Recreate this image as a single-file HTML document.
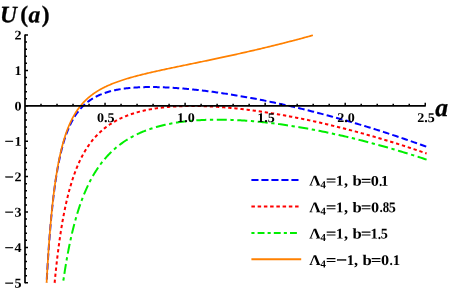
<!DOCTYPE html>
<html><head><meta charset="utf-8"><title>U(a)</title>
<style>html,body{margin:0;padding:0;background:#fff}svg{display:block;will-change:transform;opacity:.999}</style></head>
<body>
<svg xmlns="http://www.w3.org/2000/svg" width="449" height="292" viewBox="0 0 449 292">
<rect width="449" height="292" fill="#fff"/>
<path d="M46.62,282.80 L46.62,282.79 L46.63,282.74 L46.63,282.65 L46.64,282.52 L46.65,282.34 L46.66,282.11 L46.67,281.83 L46.69,281.50 L46.71,281.11 L46.74,280.68 L46.76,280.19 L46.79,279.64 L46.83,279.04 L46.86,278.39 L46.90,277.68 L46.94,276.91 L46.99,276.09 L47.04,275.22 L47.09,274.29 L47.15,273.31 L47.21,272.28 L47.27,271.19 L47.34,270.05 L47.41,268.87 L47.48,267.63 L47.56,266.35 L47.64,265.02 L47.72,263.64 L47.81,262.22 L47.90,260.76 L48.00,259.25 L48.10,257.71 L48.20,256.13 L48.31,254.51 L48.42,252.85 L48.53,251.17 L48.65,249.45 L48.78,247.70 L48.90,245.92 L49.03,244.12 L49.17,242.29 L49.31,240.43 L49.45,238.56 L49.60,236.67 L49.75,234.76 L49.90,232.83 L50.06,230.89 L50.22,228.93 L50.39,226.97 L50.56,224.99 L50.74,223.01 L50.92,221.02 L51.10,219.03 L51.29,217.03 L51.48,215.03 L51.68,213.03 L51.88,211.03 L52.08,209.04 L52.29,207.05 L52.51,205.06 L52.72,203.08 L52.95,201.11 L53.17,199.14 L53.40,197.19 L53.64,195.25 L53.88,193.31 L54.12,191.40 L54.37,189.49 L54.62,187.60 L54.88,185.72 L55.14,183.86 L55.41,182.02 L55.68,180.19 L55.95,178.39 L56.23,176.60 L56.52,174.83 L56.81,173.07 L57.10,171.34 L57.40,169.63 L57.70,167.94 L58.01,166.27 L58.32,164.63 L58.63,163.00 L58.95,161.40 L59.28,159.81 L59.61,158.25 L59.94,156.72 L60.28,155.20 L60.63,153.71 L60.98,152.24 L61.33,150.79 L61.69,149.37 L62.05,147.97 L62.42,146.59 L62.79,145.23 L63.17,143.90 L63.55,142.59 L63.93,141.30 L64.32,140.03 L64.72,138.79 L65.12,137.56 L65.53,136.36 L65.94,135.18 L66.35,134.03 L66.77,132.89 L67.20,131.77 L67.63,130.68 L68.06,129.60 L68.50,128.55 L68.94,127.52 L69.39,126.50 L69.85,125.51 L70.30,124.53 L70.77,123.58 L71.24,122.64 L71.71,121.72 L72.19,120.82 L72.67,119.94 L73.16,119.07 L73.65,118.23 L74.15,117.40 L74.65,116.59 L75.16,115.79 L75.67,115.01 L76.19,114.25 L76.71,113.50 L77.24,112.77 L77.78,112.06 L78.31,111.36 L78.86,110.67 L79.40,110.00 L79.96,109.35 L80.52,108.70 L81.08,108.08 L81.65,107.46 L82.22,106.86 L82.80,106.27 L83.38,105.70 L83.97,105.14 L84.56,104.59 L85.16,104.05 L85.77,103.53 L86.38,103.02 L86.99,102.51 L87.61,102.02 L88.23,101.55 L88.86,101.08 L89.50,100.62 L90.14,100.18 L90.78,99.74 L91.43,99.32 L92.09,98.90 L92.75,98.50 L93.42,98.10 L94.09,97.71 L94.76,97.34 L95.44,96.97 L96.13,96.61 L96.82,96.26 L97.52,95.92 L98.22,95.59 L98.93,95.27 L99.64,94.95 L100.36,94.64 L101.08,94.34 L101.81,94.05 L102.55,93.77 L103.29,93.49 L104.03,93.22 L104.78,92.96 L105.54,92.70 L106.30,92.46 L107.06,92.22 L107.83,91.98 L108.61,91.75 L109.39,91.53 L110.18,91.32 L110.97,91.11 L111.77,90.91 L112.57,90.71 L113.38,90.52 L114.20,90.34 L115.02,90.16 L115.84,89.99 L116.67,89.82 L117.51,89.66 L118.35,89.51 L119.20,89.36 L120.05,89.22 L120.91,89.08 L121.77,88.94 L122.64,88.81 L123.51,88.69 L124.39,88.57 L125.27,88.46 L126.16,88.35 L127.06,88.25 L127.96,88.15 L128.87,88.05 L129.78,87.96 L130.70,87.88 L131.62,87.80 L132.55,87.72 L133.48,87.65 L134.42,87.58 L135.37,87.52 L136.32,87.46 L137.27,87.40 L138.23,87.35 L139.20,87.31 L140.17,87.26 L141.15,87.23 L142.14,87.19 L143.13,87.16 L144.12,87.14 L145.12,87.11 L146.13,87.10 L147.14,87.08 L148.16,87.07 L149.18,87.06 L150.21,87.06 L151.24,87.06 L152.28,87.06 L153.33,87.07 L154.38,87.08 L155.43,87.10 L156.49,87.12 L157.56,87.14 L158.64,87.17 L159.71,87.20 L160.80,87.23 L161.89,87.27 L162.99,87.31 L164.09,87.35 L165.19,87.40 L166.31,87.45 L167.43,87.50 L168.55,87.56 L169.68,87.62 L170.81,87.68 L171.96,87.75 L173.10,87.82 L174.26,87.90 L175.41,87.98 L176.58,88.06 L177.75,88.14 L178.92,88.23 L180.10,88.32 L181.29,88.41 L182.48,88.51 L183.68,88.61 L184.89,88.72 L186.10,88.83 L187.31,88.94 L188.53,89.05 L189.76,89.17 L190.99,89.29 L192.23,89.42 L193.48,89.54 L194.73,89.68 L195.98,89.81 L197.25,89.95 L198.51,90.09 L199.79,90.23 L201.07,90.38 L202.35,90.53 L203.64,90.69 L204.94,90.85 L206.24,91.01 L207.55,91.17 L208.86,91.34 L210.18,91.51 L211.51,91.69 L212.84,91.86 L214.18,92.05 L215.52,92.23 L216.87,92.42 L218.23,92.61 L219.59,92.81 L220.95,93.01 L222.33,93.21 L223.71,93.41 L225.09,93.62 L226.48,93.84 L227.88,94.05 L229.28,94.27 L230.69,94.50 L232.10,94.72 L233.52,94.95 L234.95,95.19 L236.38,95.42 L237.82,95.67 L239.26,95.91 L240.71,96.16 L242.16,96.41 L243.63,96.67 L245.09,96.93 L246.57,97.19 L248.04,97.46 L249.53,97.73 L251.02,98.00 L252.52,98.28 L254.02,98.56 L255.53,98.85 L257.04,99.14 L258.56,99.43 L260.09,99.73 L261.62,100.03 L263.16,100.34 L264.71,100.64 L266.26,100.96 L267.81,101.27 L269.38,101.60 L270.95,101.92 L272.52,102.25 L274.10,102.58 L275.69,102.92 L277.28,103.26 L278.88,103.61 L280.48,103.96 L282.10,104.31 L283.71,104.67 L285.34,105.03 L286.96,105.39 L288.60,105.76 L290.24,106.14 L291.89,106.52 L293.54,106.90 L295.20,107.29 L296.86,107.68 L298.54,108.08 L300.21,108.48 L301.90,108.88 L303.59,109.29 L305.28,109.71 L306.98,110.12 L308.69,110.55 L310.41,110.97 L312.13,111.41 L313.85,111.84 L315.58,112.28 L317.32,112.73 L319.07,113.18 L320.82,113.64 L322.57,114.10 L324.34,114.56 L326.11,115.03 L327.88,115.51 L329.66,115.99 L331.45,116.47 L333.24,116.96 L335.04,117.45 L336.85,117.95 L338.66,118.46 L340.48,118.96 L342.30,119.48 L344.13,120.00 L345.97,120.52 L347.81,121.05 L349.66,121.59 L351.51,122.13 L353.38,122.67 L355.24,123.22 L357.12,123.78 L359.00,124.34 L360.88,124.90 L362.77,125.47 L364.67,126.05 L366.58,126.63 L368.49,127.22 L370.40,127.81 L372.33,128.41 L374.26,129.02 L376.19,129.63 L378.13,130.24 L380.08,130.86 L382.04,131.49 L384.00,132.12 L385.96,132.76 L387.94,133.41 L389.92,134.06 L391.90,134.71 L393.89,135.38 L395.89,136.04 L397.89,136.72 L399.90,137.40 L401.92,138.08 L403.94,138.77 L405.97,139.47 L408.01,140.18 L410.05,140.89 L412.10,141.60 L414.15,142.32 L416.21,143.05 L418.28,143.79 L420.35,144.53 L422.43,145.28 L424.52,146.03 L426.61,146.79" stroke="#0000ff" stroke-width="2" fill="none" stroke-dasharray="6.6 3.19" stroke-dashoffset="6.5"/>
<path d="M54.63,282.80 L54.63,282.79 L54.64,282.77 L54.64,282.72 L54.65,282.64 L54.66,282.54 L54.67,282.42 L54.68,282.26 L54.70,282.08 L54.72,281.86 L54.74,281.62 L54.77,281.35 L54.80,281.04 L54.83,280.71 L54.87,280.34 L54.91,279.94 L54.95,279.51 L54.99,279.05 L55.04,278.56 L55.09,278.03 L55.15,277.48 L55.20,276.89 L55.27,276.27 L55.33,275.62 L55.40,274.94 L55.47,274.23 L55.55,273.48 L55.63,272.71 L55.71,271.91 L55.80,271.08 L55.89,270.22 L55.98,269.33 L56.08,268.42 L56.18,267.48 L56.28,266.51 L56.39,265.52 L56.50,264.50 L56.62,263.46 L56.74,262.39 L56.87,261.30 L56.99,260.19 L57.12,259.06 L57.26,257.90 L57.40,256.73 L57.54,255.53 L57.69,254.32 L57.84,253.09 L58.00,251.84 L58.16,250.58 L58.32,249.30 L58.49,248.01 L58.66,246.70 L58.84,245.38 L59.02,244.05 L59.20,242.71 L59.39,241.35 L59.58,239.99 L59.78,238.61 L59.98,237.23 L60.18,235.84 L60.39,234.45 L60.60,233.05 L60.82,231.64 L61.04,230.23 L61.27,228.81 L61.50,227.39 L61.73,225.97 L61.97,224.55 L62.22,223.13 L62.46,221.70 L62.72,220.28 L62.97,218.85 L63.23,217.43 L63.50,216.01 L63.77,214.59 L64.04,213.18 L64.32,211.77 L64.60,210.36 L64.89,208.96 L65.18,207.56 L65.48,206.17 L65.78,204.78 L66.08,203.40 L66.39,202.03 L66.71,200.66 L67.02,199.30 L67.35,197.95 L67.67,196.61 L68.01,195.27 L68.34,193.95 L68.68,192.63 L69.03,191.32 L69.38,190.02 L69.74,188.74 L70.09,187.46 L70.46,186.19 L70.83,184.93 L71.20,183.69 L71.58,182.45 L71.96,181.23 L72.35,180.02 L72.74,178.81 L73.14,177.62 L73.54,176.44 L73.95,175.28 L74.36,174.12 L74.77,172.98 L75.19,171.85 L75.62,170.72 L76.05,169.62 L76.48,168.52 L76.92,167.44 L77.37,166.37 L77.81,165.31 L78.27,164.26 L78.73,163.22 L79.19,162.20 L79.66,161.19 L80.13,160.19 L80.61,159.20 L81.09,158.23 L81.58,157.26 L82.07,156.31 L82.57,155.37 L83.07,154.45 L83.58,153.53 L84.09,152.63 L84.61,151.74 L85.13,150.86 L85.66,149.99 L86.19,149.13 L86.72,148.29 L87.26,147.45 L87.81,146.63 L88.36,145.82 L88.92,145.02 L89.48,144.23 L90.05,143.45 L90.62,142.68 L91.19,141.93 L91.77,141.18 L92.36,140.45 L92.95,139.72 L93.55,139.01 L94.15,138.31 L94.76,137.61 L95.37,136.93 L95.98,136.26 L96.60,135.59 L97.23,134.94 L97.86,134.30 L98.50,133.66 L99.14,133.04 L99.79,132.42 L100.44,131.82 L101.10,131.22 L101.76,130.64 L102.42,130.06 L103.10,129.49 L103.77,128.93 L104.46,128.38 L105.14,127.84 L105.84,127.31 L106.54,126.78 L107.24,126.27 L107.95,125.76 L108.66,125.26 L109.38,124.77 L110.10,124.28 L110.83,123.81 L111.57,123.34 L112.31,122.88 L113.05,122.43 L113.80,121.99 L114.55,121.55 L115.31,121.12 L116.08,120.70 L116.85,120.29 L117.63,119.88 L118.41,119.48 L119.19,119.09 L119.99,118.70 L120.78,118.33 L121.59,117.96 L122.39,117.59 L123.21,117.23 L124.02,116.88 L124.85,116.54 L125.68,116.20 L126.51,115.87 L127.35,115.55 L128.19,115.23 L129.04,114.92 L129.90,114.61 L130.76,114.31 L131.63,114.02 L132.50,113.73 L133.37,113.45 L134.26,113.18 L135.14,112.91 L136.04,112.64 L136.93,112.39 L137.84,112.13 L138.75,111.89 L139.66,111.65 L140.58,111.41 L141.51,111.18 L142.44,110.96 L143.37,110.74 L144.31,110.53 L145.26,110.32 L146.21,110.12 L147.17,109.92 L148.13,109.73 L149.10,109.54 L150.08,109.36 L151.05,109.19 L152.04,109.02 L153.03,108.85 L154.03,108.69 L155.03,108.53 L156.03,108.38 L157.05,108.24 L158.06,108.09 L159.09,107.96 L160.11,107.83 L161.15,107.70 L162.19,107.58 L163.23,107.46 L164.28,107.35 L165.34,107.24 L166.40,107.14 L167.47,107.04 L168.54,106.95 L169.62,106.86 L170.70,106.77 L171.79,106.69 L172.89,106.62 L173.99,106.55 L175.10,106.48 L176.21,106.42 L177.32,106.36 L178.45,106.31 L179.58,106.26 L180.71,106.21 L181.85,106.17 L182.99,106.14 L184.14,106.11 L185.30,106.08 L186.46,106.06 L187.63,106.04 L188.80,106.02 L189.98,106.01 L191.17,106.01 L192.36,106.01 L193.55,106.01 L194.75,106.02 L195.96,106.03 L197.17,106.04 L198.39,106.06 L199.62,106.09 L200.85,106.12 L202.08,106.15 L203.32,106.19 L204.57,106.23 L205.82,106.27 L207.08,106.32 L208.34,106.37 L209.61,106.43 L210.89,106.49 L212.17,106.56 L213.45,106.63 L214.75,106.70 L216.04,106.78 L217.35,106.86 L218.66,106.95 L219.97,107.04 L221.29,107.14 L222.62,107.24 L223.95,107.34 L225.29,107.45 L226.63,107.56 L227.98,107.68 L229.34,107.80 L230.70,107.92 L232.07,108.05 L233.44,108.18 L234.82,108.32 L236.20,108.46 L237.59,108.60 L238.99,108.75 L240.39,108.91 L241.80,109.06 L243.21,109.23 L244.63,109.39 L246.05,109.56 L247.48,109.74 L248.92,109.92 L250.36,110.10 L251.81,110.29 L253.26,110.48 L254.72,110.68 L256.19,110.88 L257.66,111.08 L259.14,111.29 L260.62,111.51 L262.11,111.72 L263.60,111.95 L265.10,112.17 L266.61,112.40 L268.12,112.64 L269.64,112.88 L271.16,113.12 L272.69,113.37 L274.23,113.63 L275.77,113.88 L277.32,114.15 L278.87,114.41 L280.43,114.68 L281.99,114.96 L283.57,115.24 L285.14,115.52 L286.72,115.81 L288.31,116.11 L289.91,116.41 L291.51,116.71 L293.11,117.02 L294.73,117.33 L296.35,117.65 L297.97,117.97 L299.60,118.30 L301.24,118.63 L302.88,118.96 L304.53,119.30 L306.18,119.65 L307.84,120.00 L309.51,120.36 L311.18,120.72 L312.86,121.08 L314.54,121.45 L316.23,121.83 L317.92,122.21 L319.63,122.59 L321.33,122.98 L323.05,123.38 L324.77,123.77 L326.49,124.18 L328.22,124.59 L329.96,125.00 L331.70,125.42 L333.45,125.85 L335.21,126.28 L336.97,126.72 L338.74,127.16 L340.51,127.60 L342.29,128.05 L344.08,128.51 L345.87,128.97 L347.67,129.44 L349.47,129.91 L351.28,130.39 L353.10,130.87 L354.92,131.36 L356.75,131.85 L358.58,132.35 L360.42,132.86 L362.27,133.37 L364.12,133.89 L365.98,134.41 L367.84,134.93 L369.71,135.47 L371.59,136.01 L373.47,136.55 L375.36,137.10 L377.26,137.66 L379.16,138.22 L381.06,138.78 L382.98,139.36 L384.90,139.94 L386.82,140.52 L388.75,141.11 L390.69,141.71 L392.63,142.31 L394.58,142.92 L396.54,143.53 L398.50,144.15 L400.47,144.78 L402.44,145.41 L404.42,146.05 L406.41,146.70 L408.40,147.35 L410.40,148.01 L412.40,148.67 L414.42,149.34 L416.43,150.02 L418.46,150.70 L420.49,151.39 L422.52,152.08 L424.56,152.79 L426.61,153.49" stroke="#ff0000" stroke-width="2" fill="none" stroke-dasharray="3.3 2.84" stroke-dashoffset="0.2"/>
<path d="M63.07,282.80 L63.07,282.80 L63.08,282.78 L63.08,282.74 L63.09,282.70 L63.10,282.63 L63.11,282.55 L63.12,282.44 L63.14,282.32 L63.16,282.18 L63.18,282.02 L63.21,281.84 L63.24,281.64 L63.27,281.42 L63.30,281.17 L63.34,280.91 L63.38,280.62 L63.43,280.31 L63.47,279.98 L63.52,279.63 L63.58,279.26 L63.63,278.87 L63.69,278.45 L63.76,278.02 L63.82,277.56 L63.89,277.08 L63.97,276.58 L64.05,276.06 L64.13,275.51 L64.21,274.95 L64.30,274.36 L64.39,273.76 L64.49,273.13 L64.58,272.49 L64.69,271.82 L64.79,271.14 L64.90,270.43 L65.02,269.71 L65.13,268.97 L65.26,268.21 L65.38,267.43 L65.51,266.64 L65.64,265.83 L65.78,265.00 L65.92,264.16 L66.06,263.29 L66.21,262.42 L66.36,261.53 L66.52,260.62 L66.68,259.70 L66.84,258.77 L67.01,257.82 L67.18,256.86 L67.36,255.88 L67.54,254.90 L67.72,253.90 L67.91,252.89 L68.10,251.88 L68.30,250.85 L68.50,249.81 L68.70,248.76 L68.91,247.70 L69.12,246.64 L69.34,245.56 L69.56,244.48 L69.79,243.39 L70.01,242.30 L70.25,241.20 L70.49,240.09 L70.73,238.98 L70.97,237.86 L71.22,236.74 L71.48,235.62 L71.74,234.49 L72.00,233.36 L72.27,232.22 L72.54,231.09 L72.82,229.95 L73.10,228.81 L73.38,227.66 L73.67,226.52 L73.97,225.38 L74.26,224.24 L74.57,223.09 L74.87,221.95 L75.18,220.81 L75.50,219.67 L75.82,218.53 L76.14,217.39 L76.47,216.26 L76.81,215.13 L77.14,214.00 L77.49,212.87 L77.83,211.75 L78.18,210.63 L78.54,209.51 L78.90,208.40 L79.27,207.29 L79.64,206.19 L80.01,205.09 L80.39,204.00 L80.77,202.91 L81.16,201.82 L81.55,200.75 L81.95,199.67 L82.35,198.61 L82.76,197.55 L83.17,196.49 L83.58,195.45 L84.00,194.41 L84.43,193.37 L84.86,192.34 L85.29,191.32 L85.73,190.31 L86.17,189.30 L86.62,188.30 L87.07,187.31 L87.53,186.32 L87.99,185.35 L88.46,184.38 L88.93,183.41 L89.41,182.46 L89.89,181.51 L90.38,180.57 L90.87,179.64 L91.36,178.72 L91.86,177.80 L92.37,176.89 L92.88,175.99 L93.39,175.10 L93.91,174.22 L94.44,173.35 L94.97,172.48 L95.50,171.62 L96.04,170.77 L96.58,169.93 L97.13,169.09 L97.68,168.27 L98.24,167.45 L98.80,166.64 L99.37,165.84 L99.95,165.05 L100.52,164.26 L101.11,163.48 L101.69,162.72 L102.29,161.96 L102.88,161.20 L103.49,160.46 L104.09,159.72 L104.71,159.00 L105.32,158.28 L105.94,157.57 L106.57,156.86 L107.20,156.17 L107.84,155.48 L108.48,154.80 L109.13,154.13 L109.78,153.46 L110.44,152.81 L111.10,152.16 L111.77,151.52 L112.44,150.89 L113.12,150.26 L113.80,149.64 L114.49,149.04 L115.18,148.43 L115.88,147.84 L116.58,147.25 L117.29,146.67 L118.00,146.10 L118.72,145.53 L119.44,144.98 L120.17,144.43 L120.90,143.88 L121.64,143.35 L122.38,142.82 L123.13,142.30 L123.88,141.78 L124.64,141.27 L125.40,140.77 L126.17,140.28 L126.94,139.79 L127.72,139.31 L128.51,138.84 L129.30,138.37 L130.09,137.91 L130.89,137.46 L131.70,137.01 L132.51,136.57 L133.32,136.14 L134.14,135.71 L134.97,135.29 L135.80,134.88 L136.63,134.47 L137.47,134.07 L138.32,133.67 L139.17,133.29 L140.03,132.90 L140.89,132.53 L141.76,132.16 L142.63,131.79 L143.51,131.43 L144.39,131.08 L145.28,130.74 L146.17,130.39 L147.07,130.06 L147.98,129.73 L148.88,129.41 L149.80,129.09 L150.72,128.78 L151.64,128.48 L152.58,128.18 L153.51,127.88 L154.45,127.59 L155.40,127.31 L156.35,127.03 L157.31,126.76 L158.27,126.50 L159.24,126.23 L160.21,125.98 L161.19,125.73 L162.17,125.48 L163.16,125.25 L164.16,125.01 L165.16,124.78 L166.16,124.56 L167.17,124.34 L168.19,124.13 L169.21,123.92 L170.24,123.72 L171.27,123.52 L172.31,123.33 L173.35,123.14 L174.40,122.96 L175.45,122.78 L176.51,122.61 L177.58,122.44 L178.65,122.28 L179.72,122.12 L180.80,121.97 L181.89,121.83 L182.98,121.68 L184.08,121.55 L185.18,121.41 L186.29,121.29 L187.40,121.16 L188.52,121.05 L189.65,120.93 L190.78,120.82 L191.91,120.72 L193.05,120.62 L194.20,120.53 L195.35,120.44 L196.51,120.35 L197.67,120.27 L198.84,120.20 L200.02,120.13 L201.20,120.06 L202.38,120.00 L203.57,119.95 L204.77,119.90 L205.97,119.85 L207.18,119.81 L208.39,119.77 L209.61,119.74 L210.83,119.71 L212.06,119.68 L213.30,119.66 L214.54,119.65 L215.78,119.64 L217.03,119.63 L218.29,119.63 L219.55,119.64 L220.82,119.64 L222.10,119.66 L223.38,119.68 L224.66,119.70 L225.95,119.72 L227.25,119.75 L228.55,119.79 L229.86,119.83 L231.17,119.88 L232.49,119.93 L233.82,119.98 L235.15,120.04 L236.48,120.10 L237.82,120.17 L239.17,120.24 L240.52,120.32 L241.88,120.40 L243.24,120.48 L244.61,120.57 L245.99,120.67 L247.37,120.77 L248.76,120.87 L250.15,120.98 L251.55,121.10 L252.95,121.21 L254.36,121.34 L255.78,121.46 L257.20,121.60 L258.62,121.73 L260.05,121.87 L261.49,122.02 L262.94,122.17 L264.39,122.32 L265.84,122.48 L267.30,122.65 L268.77,122.82 L270.24,122.99 L271.72,123.17 L273.20,123.35 L274.69,123.54 L276.18,123.73 L277.69,123.93 L279.19,124.13 L280.70,124.34 L282.22,124.55 L283.75,124.76 L285.28,124.98 L286.81,125.21 L288.35,125.44 L289.90,125.68 L291.45,125.92 L293.01,126.16 L294.57,126.41 L296.14,126.67 L297.72,126.92 L299.30,127.19 L300.89,127.46 L302.48,127.73 L304.08,128.01 L305.69,128.30 L307.30,128.59 L308.91,128.88 L310.53,129.18 L312.16,129.48 L313.80,129.79 L315.44,130.11 L317.08,130.43 L318.73,130.75 L320.39,131.08 L322.05,131.41 L323.72,131.75 L325.40,132.10 L327.08,132.45 L328.76,132.80 L330.46,133.16 L332.15,133.53 L333.86,133.90 L335.57,134.28 L337.28,134.66 L339.01,135.04 L340.73,135.44 L342.47,135.83 L344.21,136.24 L345.95,136.64 L347.70,137.06 L349.46,137.48 L351.22,137.90 L352.99,138.33 L354.77,138.77 L356.55,139.21 L358.33,139.65 L360.13,140.11 L361.92,140.56 L363.73,141.03 L365.54,141.49 L367.35,141.97 L369.18,142.45 L371.00,142.94 L372.84,143.43 L374.68,143.92 L376.52,144.43 L378.38,144.94 L380.23,145.45 L382.10,145.97 L383.97,146.50 L385.84,147.03 L387.72,147.57 L389.61,148.11 L391.50,148.66 L393.40,149.22 L395.31,149.78 L397.22,150.35 L399.14,150.92 L401.06,151.50 L402.99,152.09 L404.93,152.68 L406.87,153.28 L408.81,153.88 L410.77,154.49 L412.73,155.11 L414.69,155.73 L416.66,156.36 L418.64,157.00 L420.62,157.64 L422.61,158.29 L424.61,158.95 L426.61,159.61" stroke="#00ee00" stroke-width="2" fill="none" stroke-dasharray="10 3.6 3.3 3.6" stroke-dashoffset="11.5"/>
<path d="M46.60,282.80 L46.60,282.79 L46.60,282.76 L46.61,282.69 L46.61,282.60 L46.62,282.47 L46.63,282.31 L46.64,282.11 L46.65,281.88 L46.66,281.61 L46.68,281.30 L46.70,280.95 L46.72,280.57 L46.74,280.14 L46.77,279.68 L46.80,279.17 L46.82,278.62 L46.86,278.04 L46.89,277.41 L46.93,276.75 L46.97,276.04 L47.01,275.30 L47.05,274.51 L47.10,273.69 L47.15,272.83 L47.20,271.93 L47.25,270.99 L47.31,270.02 L47.37,269.01 L47.43,267.96 L47.50,266.88 L47.56,265.76 L47.63,264.61 L47.71,263.43 L47.78,262.22 L47.86,260.97 L47.94,259.69 L48.02,258.39 L48.11,257.05 L48.20,255.69 L48.29,254.30 L48.38,252.89 L48.48,251.45 L48.58,249.99 L48.68,248.50 L48.79,246.99 L48.90,245.47 L49.01,243.92 L49.12,242.36 L49.24,240.78 L49.36,239.18 L49.48,237.57 L49.61,235.94 L49.74,234.30 L49.87,232.65 L50.00,230.99 L50.14,229.32 L50.28,227.64 L50.43,225.95 L50.57,224.26 L50.72,222.56 L50.88,220.86 L51.03,219.15 L51.19,217.44 L51.35,215.73 L51.52,214.01 L51.68,212.30 L51.86,210.59 L52.03,208.88 L52.21,207.17 L52.39,205.46 L52.57,203.76 L52.76,202.07 L52.95,200.38 L53.14,198.69 L53.34,197.01 L53.53,195.34 L53.74,193.68 L53.94,192.03 L54.15,190.38 L54.36,188.75 L54.58,187.12 L54.80,185.51 L55.02,183.91 L55.24,182.32 L55.47,180.74 L55.70,179.17 L55.94,177.62 L56.17,176.08 L56.42,174.55 L56.66,173.04 L56.91,171.54 L57.16,170.05 L57.41,168.58 L57.67,167.13 L57.93,165.69 L58.19,164.26 L58.46,162.85 L58.73,161.46 L59.01,160.08 L59.28,158.72 L59.56,157.37 L59.85,156.04 L60.14,154.72 L60.43,153.42 L60.72,152.14 L61.02,150.87 L61.32,149.62 L61.62,148.39 L61.93,147.17 L62.24,145.96 L62.56,144.78 L62.88,143.60 L63.20,142.45 L63.52,141.31 L63.85,140.19 L64.18,139.08 L64.52,137.99 L64.86,136.91 L65.20,135.85 L65.54,134.80 L65.89,133.77 L66.24,132.76 L66.60,131.75 L66.96,130.77 L67.32,129.80 L67.69,128.84 L68.06,127.90 L68.43,126.97 L68.81,126.05 L69.19,125.15 L69.57,124.27 L69.96,123.39 L70.35,122.53 L70.75,121.69 L71.15,120.86 L71.55,120.03 L71.95,119.23 L72.36,118.43 L72.77,117.65 L73.19,116.88 L73.61,116.12 L74.03,115.38 L74.46,114.64 L74.89,113.92 L75.32,113.21 L75.76,112.51 L76.20,111.82 L76.65,111.14 L77.10,110.47 L77.55,109.82 L78.00,109.17 L78.46,108.53 L78.93,107.91 L79.39,107.29 L79.86,106.68 L80.34,106.09 L80.82,105.50 L81.30,104.92 L81.78,104.35 L82.27,103.79 L82.76,103.24 L83.26,102.69 L83.76,102.16 L84.26,101.63 L84.77,101.11 L85.28,100.60 L85.79,100.10 L86.31,99.61 L86.83,99.12 L87.36,98.64 L87.89,98.17 L88.42,97.70 L88.96,97.24 L89.50,96.79 L90.04,96.35 L90.59,95.91 L91.14,95.48 L91.70,95.05 L92.26,94.63 L92.82,94.22 L93.39,93.81 L93.96,93.41 L94.53,93.01 L95.11,92.62 L95.69,92.24 L96.28,91.86 L96.87,91.48 L97.46,91.11 L98.06,90.75 L98.66,90.39 L99.27,90.04 L99.87,89.69 L100.49,89.34 L101.10,89.00 L101.72,88.67 L102.35,88.34 L102.97,88.01 L103.60,87.68 L104.24,87.37 L104.88,87.05 L105.52,86.74 L106.17,86.43 L106.82,86.13 L107.47,85.83 L108.13,85.53 L108.80,85.24 L109.46,84.95 L110.13,84.66 L110.81,84.38 L111.48,84.09 L112.16,83.82 L112.85,83.54 L113.54,83.27 L114.23,83.00 L114.93,82.73 L115.63,82.47 L116.34,82.21 L117.05,81.95 L117.76,81.70 L118.48,81.44 L119.20,81.19 L119.92,80.94 L120.65,80.69 L121.38,80.45 L122.12,80.21 L122.86,79.96 L123.60,79.73 L124.35,79.49 L125.10,79.25 L125.86,79.02 L126.62,78.79 L127.38,78.56 L128.15,78.33 L128.92,78.10 L129.70,77.88 L130.48,77.65 L131.26,77.43 L132.05,77.21 L132.84,76.99 L133.64,76.77 L134.44,76.55 L135.24,76.34 L136.05,76.12 L136.86,75.91 L137.68,75.69 L138.50,75.48 L139.32,75.27 L140.15,75.06 L140.98,74.85 L141.82,74.64 L142.66,74.43 L143.50,74.22 L144.35,74.02 L145.20,73.81 L146.06,73.60 L146.92,73.40 L147.78,73.19 L148.65,72.99 L149.52,72.79 L150.40,72.58 L151.28,72.38 L152.16,72.18 L153.05,71.97 L153.94,71.77 L154.84,71.57 L155.74,71.37 L156.65,71.16 L157.55,70.96 L158.47,70.76 L159.38,70.56 L160.31,70.36 L161.23,70.16 L162.16,69.95 L163.09,69.75 L164.03,69.55 L164.97,69.35 L165.92,69.15 L166.87,68.94 L167.82,68.74 L168.78,68.54 L169.74,68.33 L170.71,68.13 L171.68,67.93 L172.65,67.72 L173.63,67.52 L174.61,67.31 L175.60,67.11 L176.59,66.90 L177.59,66.69 L178.59,66.48 L179.59,66.28 L180.60,66.07 L181.61,65.86 L182.62,65.65 L183.64,65.44 L184.67,65.23 L185.70,65.01 L186.73,64.80 L187.76,64.59 L188.81,64.37 L189.85,64.16 L190.90,63.94 L191.95,63.72 L193.01,63.51 L194.07,63.29 L195.14,63.07 L196.21,62.85 L197.28,62.62 L198.36,62.40 L199.44,62.18 L200.53,61.95 L201.62,61.72 L202.72,61.50 L203.82,61.27 L204.92,61.04 L206.03,60.81 L207.14,60.57 L208.26,60.34 L209.38,60.11 L210.50,59.87 L211.63,59.63 L212.76,59.39 L213.90,59.15 L215.04,58.91 L216.19,58.67 L217.34,58.42 L218.49,58.18 L219.65,57.93 L220.81,57.68 L221.98,57.43 L223.15,57.18 L224.33,56.93 L225.51,56.67 L226.69,56.41 L227.88,56.16 L229.07,55.90 L230.27,55.63 L231.47,55.37 L232.68,55.11 L233.89,54.84 L235.10,54.57 L236.32,54.30 L237.54,54.03 L238.77,53.75 L240.00,53.48 L241.23,53.20 L242.47,52.92 L243.72,52.64 L244.97,52.36 L246.22,52.07 L247.48,51.78 L248.74,51.49 L250.00,51.20 L251.27,50.91 L252.55,50.61 L253.82,50.32 L255.11,50.02 L256.39,49.72 L257.69,49.41 L258.98,49.11 L260.28,48.80 L261.59,48.49 L262.89,48.18 L264.21,47.86 L265.52,47.54 L266.85,47.22 L268.17,46.90 L269.50,46.58 L270.84,46.25 L272.18,45.92 L273.52,45.59 L274.87,45.26 L276.22,44.92 L277.58,44.59 L278.94,44.25 L280.30,43.90 L281.67,43.56 L283.05,43.21 L284.42,42.86 L285.81,42.51 L287.19,42.15 L288.59,41.79 L289.98,41.43 L291.38,41.07 L292.79,40.70 L294.20,40.33 L295.61,39.96 L297.03,39.59 L298.45,39.21 L299.88,38.83 L301.31,38.45 L302.74,38.06 L304.18,37.67 L305.63,37.28 L307.07,36.89 L308.53,36.49 L309.98,36.09 L311.45,35.69 L312.91,35.28" stroke="#ff8000" stroke-width="1.7" fill="none"/>
<path d="M25.00,34.50 V283.30 M25.00,105.80 H425.75" stroke="#000" stroke-width="1.7" fill="none"/>
<path d="M41.01,105.80 v-2.0 M57.02,105.80 v-2.0 M73.03,105.80 v-2.0 M89.04,105.80 v-2.0 M105.05,105.80 v-3.0 M121.06,105.80 v-2.0 M137.07,105.80 v-2.0 M153.08,105.80 v-2.0 M169.09,105.80 v-2.0 M185.10,105.80 v-3.0 M201.11,105.80 v-2.0 M217.12,105.80 v-2.0 M233.13,105.80 v-2.0 M249.14,105.80 v-2.0 M265.15,105.80 v-3.0 M281.16,105.80 v-2.0 M297.17,105.80 v-2.0 M313.18,105.80 v-2.0 M329.19,105.80 v-2.0 M345.20,105.80 v-3.0 M361.21,105.80 v-2.0 M377.22,105.80 v-2.0 M393.23,105.80 v-2.0 M409.24,105.80 v-2.0 M425.25,105.80 v-3.0 M25.00,282.80 h3.0 M25.00,275.72 h2.0 M25.00,268.64 h2.0 M25.00,261.56 h2.0 M25.00,254.48 h2.0 M25.00,247.40 h3.0 M25.00,240.32 h2.0 M25.00,233.24 h2.0 M25.00,226.16 h2.0 M25.00,219.08 h2.0 M25.00,212.00 h3.0 M25.00,204.92 h2.0 M25.00,197.84 h2.0 M25.00,190.76 h2.0 M25.00,183.68 h2.0 M25.00,176.60 h3.0 M25.00,169.52 h2.0 M25.00,162.44 h2.0 M25.00,155.36 h2.0 M25.00,148.28 h2.0 M25.00,141.20 h3.0 M25.00,134.12 h2.0 M25.00,127.04 h2.0 M25.00,119.96 h2.0 M25.00,112.88 h2.0 M25.00,105.80 h3.0 M25.00,98.72 h2.0 M25.00,91.64 h2.0 M25.00,84.56 h2.0 M25.00,77.48 h2.0 M25.00,70.40 h3.0 M25.00,63.32 h2.0 M25.00,56.24 h2.0 M25.00,49.16 h2.0 M25.00,42.08 h2.0 M25.00,35.00 h3.0" stroke="#000" stroke-width="1.5" fill="none"/>
<text transform="translate(105.85,122.00) rotate(0.03) scale(1.06,1)" style="font-family:'Liberation Serif',serif;font-weight:bold;font-size:13.3px;" text-anchor="middle">0.5</text>
<text transform="translate(185.90,122.00) rotate(0.03) scale(1.06,1)" style="font-family:'Liberation Serif',serif;font-weight:bold;font-size:13.3px;" text-anchor="middle">1.0</text>
<text transform="translate(265.95,122.00) rotate(0.03) scale(1.06,1)" style="font-family:'Liberation Serif',serif;font-weight:bold;font-size:13.3px;" text-anchor="middle">1.5</text>
<text transform="translate(346.00,122.00) rotate(0.03) scale(1.06,1)" style="font-family:'Liberation Serif',serif;font-weight:bold;font-size:13.3px;" text-anchor="middle">2.0</text>
<text transform="translate(426.05,122.00) rotate(0.03) scale(1.06,1)" style="font-family:'Liberation Serif',serif;font-weight:bold;font-size:13.3px;" text-anchor="middle">2.5</text>
<text transform="translate(0,39.60) rotate(0.03)" style="font-family:'Liberation Serif',serif;font-weight:bold;font-size:13.3px"><tspan x="14.55" textLength="7.05" lengthAdjust="spacingAndGlyphs">2</tspan></text>
<text transform="translate(0,75.00) rotate(0.03)" style="font-family:'Liberation Serif',serif;font-weight:bold;font-size:13.3px"><tspan x="14.55" textLength="7.05" lengthAdjust="spacingAndGlyphs">1</tspan></text>
<text transform="translate(0,110.40) rotate(0.03)" style="font-family:'Liberation Serif',serif;font-weight:bold;font-size:13.3px"><tspan x="14.55" textLength="7.05" lengthAdjust="spacingAndGlyphs">0</tspan></text>
<text transform="translate(0,145.80) rotate(0.03)" style="font-family:'Liberation Serif',serif;font-weight:bold;font-size:13.3px"><tspan x="4.66" textLength="8.94" lengthAdjust="spacingAndGlyphs" stroke="#000" stroke-width="0.4">−</tspan><tspan x="14.55" textLength="7.05" lengthAdjust="spacingAndGlyphs">1</tspan></text>
<text transform="translate(0,181.20) rotate(0.03)" style="font-family:'Liberation Serif',serif;font-weight:bold;font-size:13.3px"><tspan x="4.66" textLength="8.94" lengthAdjust="spacingAndGlyphs" stroke="#000" stroke-width="0.4">−</tspan><tspan x="14.55" textLength="7.05" lengthAdjust="spacingAndGlyphs">2</tspan></text>
<text transform="translate(0,216.60) rotate(0.03)" style="font-family:'Liberation Serif',serif;font-weight:bold;font-size:13.3px"><tspan x="4.66" textLength="8.94" lengthAdjust="spacingAndGlyphs" stroke="#000" stroke-width="0.4">−</tspan><tspan x="14.55" textLength="7.05" lengthAdjust="spacingAndGlyphs">3</tspan></text>
<text transform="translate(0,252.00) rotate(0.03)" style="font-family:'Liberation Serif',serif;font-weight:bold;font-size:13.3px"><tspan x="4.66" textLength="8.94" lengthAdjust="spacingAndGlyphs" stroke="#000" stroke-width="0.4">−</tspan><tspan x="14.55" textLength="7.05" lengthAdjust="spacingAndGlyphs">4</tspan></text>
<text transform="translate(0,287.40) rotate(0.03)" style="font-family:'Liberation Serif',serif;font-weight:bold;font-size:13.3px"><tspan x="4.66" textLength="8.94" lengthAdjust="spacingAndGlyphs" stroke="#000" stroke-width="0.4">−</tspan><tspan x="14.55" textLength="7.05" lengthAdjust="spacingAndGlyphs">5</tspan></text>
<text transform="translate(0,22) rotate(0.03)" style="font-family:'Liberation Serif',serif;font-weight:bold;font-size:23.5px;stroke:#000;stroke-width:0.3px"><tspan x="0" y="0.3" style="font-style:italic">U</tspan><tspan x="20.3" y="0">(</tspan><tspan x="28.5" y="0.3" style="font-style:italic">a</tspan><tspan x="41.7" y="0">)</tspan></text>
<text transform="translate(435.30,116.00) rotate(0.03) scale(1,1)" style="font-family:'Liberation Serif',serif;font-weight:bold;font-size:25.6px;font-style:italic;stroke:#000;stroke-width:0.3px;" text-anchor="start">a</text>
<path d="M251.4,180 H301.2" stroke="#0000ff" stroke-width="2" fill="none" stroke-dasharray="7.1 2.9"/>
<text xml:space="preserve" transform="translate(309.0,185.60) rotate(0.03)" style="font-family:'Liberation Serif',serif;font-weight:bold;font-size:14.8px"><tspan x="0.30" textLength="11.46" lengthAdjust="spacingAndGlyphs">Λ</tspan><tspan x="11.45" textLength="5.40" lengthAdjust="spacingAndGlyphs" dy="2.6" style="font-size:10.8px">4</tspan><tspan x="16.84" textLength="10.79" lengthAdjust="spacingAndGlyphs" dy="-2.6">=</tspan><tspan x="27.05" textLength="7.40" lengthAdjust="spacingAndGlyphs">1</tspan><tspan x="34.93" textLength="4.07" lengthAdjust="spacingAndGlyphs">,</tspan><tspan x="39.50"> </tspan><tspan x="43.52" textLength="9.22" lengthAdjust="spacingAndGlyphs">b</tspan><tspan x="51.74" textLength="10.79" lengthAdjust="spacingAndGlyphs">=</tspan><tspan x="61.75" textLength="8.14" lengthAdjust="spacingAndGlyphs">0</tspan><tspan x="69.93" textLength="3.33" lengthAdjust="spacingAndGlyphs">.</tspan><tspan x="71.95" textLength="7.40" lengthAdjust="spacingAndGlyphs">1</tspan></text>
<path d="M251.4,206.6 H301.2" stroke="#ff0000" stroke-width="2" fill="none" stroke-dasharray="3.5 2.74"/>
<text xml:space="preserve" transform="translate(309.0,212.20) rotate(0.03)" style="font-family:'Liberation Serif',serif;font-weight:bold;font-size:14.8px"><tspan x="0.30" textLength="11.46" lengthAdjust="spacingAndGlyphs">Λ</tspan><tspan x="11.45" textLength="5.40" lengthAdjust="spacingAndGlyphs" dy="2.6" style="font-size:10.8px">4</tspan><tspan x="16.84" textLength="10.79" lengthAdjust="spacingAndGlyphs" dy="-2.6">=</tspan><tspan x="27.05" textLength="7.40" lengthAdjust="spacingAndGlyphs">1</tspan><tspan x="34.93" textLength="4.07" lengthAdjust="spacingAndGlyphs">,</tspan><tspan x="39.50"> </tspan><tspan x="43.52" textLength="9.22" lengthAdjust="spacingAndGlyphs">b</tspan><tspan x="51.74" textLength="10.79" lengthAdjust="spacingAndGlyphs">=</tspan><tspan x="61.95" textLength="8.14" lengthAdjust="spacingAndGlyphs">0</tspan><tspan x="70.52" textLength="3.33" lengthAdjust="spacingAndGlyphs">.</tspan><tspan x="73.76" textLength="6.44" lengthAdjust="spacingAndGlyphs">8</tspan><tspan x="79.72" textLength="7.10" lengthAdjust="spacingAndGlyphs">5</tspan></text>
<path d="M251.4,232.9 H299" stroke="#00ee00" stroke-width="2" fill="none" stroke-dasharray="3.1 3.1 6.9 3.1"/>
<text xml:space="preserve" transform="translate(309.0,238.50) rotate(0.03)" style="font-family:'Liberation Serif',serif;font-weight:bold;font-size:14.8px"><tspan x="0.30" textLength="11.46" lengthAdjust="spacingAndGlyphs">Λ</tspan><tspan x="11.45" textLength="5.40" lengthAdjust="spacingAndGlyphs" dy="2.6" style="font-size:10.8px">4</tspan><tspan x="16.84" textLength="10.79" lengthAdjust="spacingAndGlyphs" dy="-2.6">=</tspan><tspan x="27.05" textLength="7.40" lengthAdjust="spacingAndGlyphs">1</tspan><tspan x="34.93" textLength="4.07" lengthAdjust="spacingAndGlyphs">,</tspan><tspan x="39.50"> </tspan><tspan x="43.52" textLength="9.22" lengthAdjust="spacingAndGlyphs">b</tspan><tspan x="51.74" textLength="10.79" lengthAdjust="spacingAndGlyphs">=</tspan><tspan x="61.45" textLength="7.40" lengthAdjust="spacingAndGlyphs">1</tspan><tspan x="68.72" textLength="3.33" lengthAdjust="spacingAndGlyphs">.</tspan><tspan x="71.72" textLength="7.10" lengthAdjust="spacingAndGlyphs">5</tspan></text>
<path d="M251.4,259.3 H301.2" stroke="#ff8000" stroke-width="2" fill="none"/>
<text xml:space="preserve" transform="translate(309.0,264.90) rotate(0.03)" style="font-family:'Liberation Serif',serif;font-weight:bold;font-size:14.8px"><tspan x="0.30" textLength="11.46" lengthAdjust="spacingAndGlyphs">Λ</tspan><tspan x="11.45" textLength="5.40" lengthAdjust="spacingAndGlyphs" dy="2.6" style="font-size:10.8px">4</tspan><tspan x="16.84" textLength="10.79" lengthAdjust="spacingAndGlyphs" dy="-2.6">=</tspan><tspan x="27.35" textLength="10.71" lengthAdjust="spacingAndGlyphs" stroke="#000" stroke-width="0.45">−</tspan><tspan x="37.65" textLength="7.40" lengthAdjust="spacingAndGlyphs">1</tspan><tspan x="44.93" textLength="4.07" lengthAdjust="spacingAndGlyphs">,</tspan><tspan x="49.50"> </tspan><tspan x="53.52" textLength="9.22" lengthAdjust="spacingAndGlyphs">b</tspan><tspan x="61.74" textLength="10.79" lengthAdjust="spacingAndGlyphs">=</tspan><tspan x="71.95" textLength="8.14" lengthAdjust="spacingAndGlyphs">0</tspan><tspan x="80.52" textLength="3.33" lengthAdjust="spacingAndGlyphs">.</tspan><tspan x="83.75" textLength="7.40" lengthAdjust="spacingAndGlyphs">1</tspan></text>
</svg>
</body></html>
